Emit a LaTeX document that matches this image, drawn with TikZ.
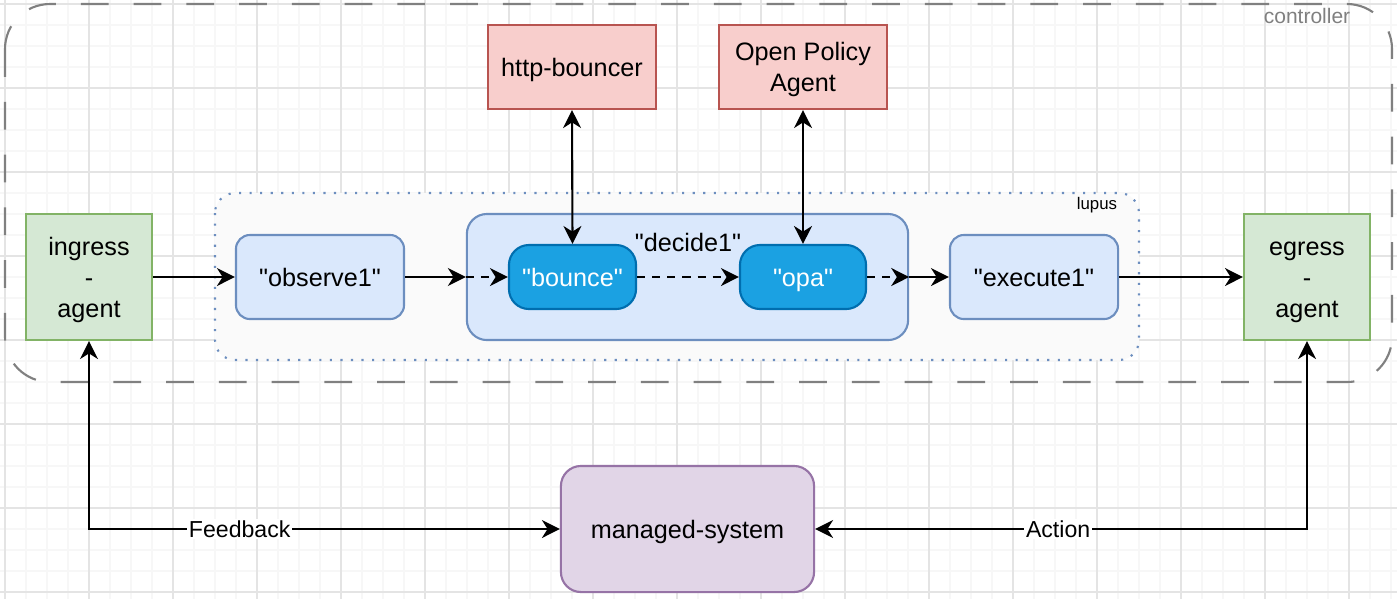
\documentclass[tikz,border=0pt]{standalone}
\usepackage{fontspec}
\setmainfont{Liberation Sans}[Ligatures=TeXOff]
\usetikzlibrary{arrows.meta}

\definecolor{agentfill}{HTML}{D5E8D4}
\definecolor{agentline}{HTML}{82B366}
\definecolor{stagefill}{HTML}{DAE8FC}
\definecolor{stageline}{HTML}{6C8EBF}
\definecolor{policyfill}{HTML}{1BA1E2}
\definecolor{policyline}{HTML}{006EAF}
\definecolor{servicefill}{HTML}{F8CECC}
\definecolor{serviceline}{HTML}{B85450}
\definecolor{systemfill}{HTML}{E1D5E7}
\definecolor{systemline}{HTML}{9673A6}
\definecolor{ctrlline}{HTML}{808080}
\definecolor{lupusfill}{HTML}{FAFAFA}
\definecolor{minorgrid}{HTML}{F7F7F7}
\definecolor{majorgrid}{HTML}{E4E4E4}

\newcommand\diagfont{\fontsize{7.17pt}{8.8pt}\selectfont}
\newcommand\linkfont{\fontsize{6.57pt}{7.5pt}\selectfont}
\newcommand\ctrlfont{\fontsize{5.97pt}{7pt}\selectfont}
\newcommand\lupfont{\fontsize{4.78pt}{5.5pt}\selectfont}

\tikzset{
    agentbox/.style={draw=agentline, fill=agentfill, line width=0.6pt,
        minimum width=1.26cm, minimum height=1.26cm, align=center, font=\diagfont, text depth=0pt},
    stagebox/.style={draw=stageline, fill=stagefill, line width=0.6pt, rounded corners=0.14cm,
        minimum width=1.68cm, minimum height=0.84cm, font=\diagfont, text height=6.6pt, text depth=1.4pt},
    policybox/.style={draw=policyline, fill=policyfill, line width=0.6pt, rounded corners=0.2cm,
        minimum width=1.27cm, minimum height=0.64cm, text=white, font=\diagfont,
        text height=6.6pt, text depth=1.4pt},
    servicebox/.style={draw=serviceline, fill=servicefill, line width=0.6pt,
        minimum width=1.68cm, minimum height=0.84cm, align=center, font=\diagfont, text depth=0pt},
    systembox/.style={draw=systemline, fill=systemfill, line width=0.6pt, rounded corners=0.2cm,
        minimum width=2.53cm, minimum height=1.26cm, font=\diagfont, text height=6.6pt, text depth=1.4pt},
    tip/.tip={Stealth[length=5.1pt, width=5.1pt, inset=1.6pt]},
    flow/.style={-tip, line width=0.6pt},
    biflow/.style={tip-tip, line width=0.6pt},
    innerflow/.style={-tip, line width=0.6pt, dash pattern=on 2.3pt off 2pt},
    linklabel/.style={fill=white, inner sep=0.5pt, font=\linkfont},
}

\begin{document}
\begin{tikzpicture}[x=0.01cm, y=-0.01cm]
    \fill[white] (0,0) rectangle (1397,599);
    \useasboundingbox (0,0) rectangle (1397,599);

    % grid
    \foreach \gx in {5,26,...,1397} \draw[minorgrid, line width=0.3pt] (\gx,0) -- (\gx,599);
    \foreach \gy in {4,25,...,599} \draw[minorgrid, line width=0.3pt] (0,\gy) -- (1397,\gy);
    \foreach \gx in {5,89,...,1397} \draw[majorgrid, line width=0.3pt] (\gx,0) -- (\gx,599);
    \foreach \gy in {4,88,...,599} \draw[majorgrid, line width=0.3pt] (0,\gy) -- (1397,\gy);

    % controller and lupus frames
    \draw[ctrlline, line width=0.6pt, rounded corners=0.45cm, dash pattern=on 7.9pt off 7.1pt]
        (5,4) rectangle (1392,382);
    \node[text=ctrlline, font=\ctrlfont] (ctrllabel) at (1307,16) {controller};

    \draw[stageline, fill=lupusfill, line width=0.6pt, rounded corners=0.2cm,
        dash pattern=on 0.6pt off 2.4pt] (215,193) rectangle (1139,360);
    \node[font=\lupfont] (lupuslabel) at (1097,205) {lupus};

    \node[agentbox] (ingress) at (89,277) {ingress\\-\\agent};
    \node[agentbox] (egress) at (1307,277) {\vphantom{i}egress\\-\\agent};

    \node[stagebox] (observe) at (320,277) {"observe1"};
    \node[stagebox, minimum width=4.41cm, minimum height=1.26cm, rounded corners=0.2cm] (decide) at (687.5,277) {};
    \node[font=\diagfont] (decidelabel) at (688,242) {"decide1"};
    \node[stagebox] (execute) at (1034,277) {"execute1"};

    \node[policybox] (bounce) at (572.5,277) {"bounce"};
    \node[policybox, minimum width=1.26cm] (opa) at (803,277) {"opa"};

    \node[servicebox] (httpbouncer) at (572,67) {http-bouncer};
    \node[servicebox] (opaagent) at (803,67) {Open Policy\\Agent};

    \node[systembox] (managed) at (687.5,529) {managed-system};

    % connectors
    \draw[flow] (ingress.east) -- (observe.west);
    \draw[flow] (observe.east) -- (decide.west);
    \draw[innerflow] (decide.west) -- (bounce.west);
    \draw[innerflow] (bounce.east) -- (opa.west);
    \draw[innerflow] (opa.east) -- (decide.east);
    \draw[flow] (decide.east) -- (execute.west);
    \draw[flow] (execute.east) -- (egress.west);

    \draw[biflow] (httpbouncer.south) -- (bounce.north);
    \draw[biflow] (opaagent.south) -- (opa.north);

    \draw[biflow] (managed.west) -| node[linklabel, pos=0.34] {Feedback} (ingress.south);
    \draw[biflow] (managed.east) -| node[linklabel, pos=0.247] {Action} (egress.south);
\end{tikzpicture}
\end{document}
